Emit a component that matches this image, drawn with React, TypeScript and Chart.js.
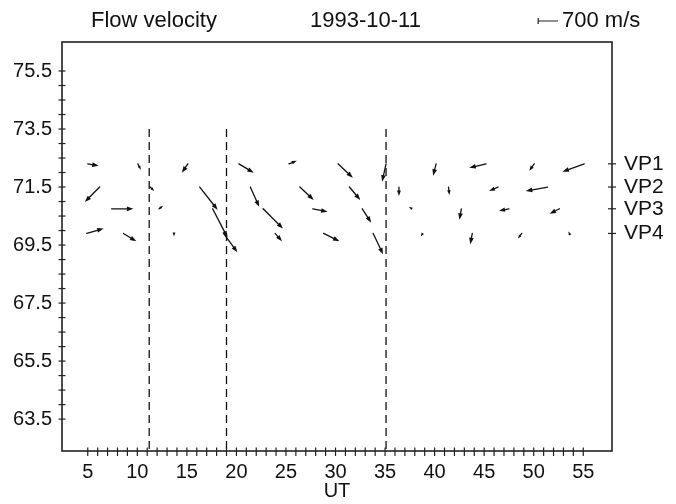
import { useEffect, useRef } from "react";
import { Chart, registerables } from "chart.js";

Chart.register(...registerables);

// ---------- data ----------
const rowNames = ["VP1", "VP2", "VP3", "VP4"];
const rowLevels = [72.3, 71.5, 70.75, 69.9];

// sample times (UT minutes) and velocity components (m/s, vy positive = up)
const vp1Times = [5.0, 10.05, 15.1, 20.25, 25.3, 30.25, 35.1, 40.15, 45.2, 50.05, 55.1];
const vp1Vx = [385, 105, -210, 525, 280, 525, -140, -105, -595, -175, -770];
const vp1Vy = [-70, -210, -315, -315, 105, -490, -630, -420, -140, -245, -280];

const vp2Times = [6.2, 11.3, 16.3, 21.4, 26.4, 31.4, 36.4, 41.4, 46.4, 51.4];
const vp2Vx = [-525, 140, 630, 315, 490, 385, 0, 35, -315, -770];
const vp2Vy = [-525, -140, -805, -700, -455, -455, -315, -280, -140, -140];

const vp3Times = [7.4, 12.2, 17.6, 22.7, 27.7, 32.7, 37.7, 42.7, 47.5, 52.6];
const vp3Vx = [770, 140, 525, 700, 525, 315, -105, -70, -350, -350];
const vp3Vy = [0, 105, -1015, -700, -105, -490, 70, -385, -70, -175];

const vp4Times = [4.9, 8.6, 13.7, 18.7, 23.9, 28.8, 33.8, 38.8, 43.8, 48.8, 53.6];
const vp4Vx = [595, 455, 0, 490, 245, 560, 350, -70, -70, -140, -35];
const vp4Vy = [175, -280, -105, -665, -280, -280, -735, -105, -385, -175, 70];

const boundaryTimes = [11.2, 19.0, 35.1];
const boundaryTop = 73.5;

const xTickLabels = [5, 10, 15, 20, 25, 30, 35, 40, 45, 50, 55];
const yTickLabels = [63.5, 65.5, 67.5, 69.5, 71.5, 73.5, 75.5];

const referenceSpeed = 700; // m/s
const referenceSpeedUT = 2; // length of the 700 m/s bar, in x-axis units

const X_MIN = 2.4;
const X_MAX = 57.9;
const Y_MIN = 62.4;
const Y_MAX = 76.5;

const FONT = "'Liberation Sans', Arial, Helvetica, sans-serif";
const INK = "#111";

const rows = [
  { t: vp1Times, vx: vp1Vx, vy: vp1Vy },
  { t: vp2Times, vx: vp2Vx, vy: vp2Vy },
  { t: vp3Times, vx: vp3Vx, vy: vp3Vy },
  { t: vp4Times, vx: vp4Vx, vy: vp4Vy },
];

function drawArrow(ctx: CanvasRenderingContext2D, x0: number, y0: number, x1: number, y1: number) {
  const dx = x1 - x0;
  const dy = y1 - y0;
  const len = Math.hypot(dx, dy);
  if (len < 0.5) return;
  const ux = dx / len;
  const uy = dy / len;
  const hl = Math.min(6.5, Math.max(3.8, len * 0.6));
  const hw = hl * 0.36;
  const bx = x1 - ux * hl;
  const by = y1 - uy * hl;
  if (len > hl) {
    ctx.beginPath();
    ctx.moveTo(x0, y0);
    ctx.lineTo(bx + ux * 1, by + uy * 1);
    ctx.stroke();
  }
  ctx.beginPath();
  ctx.moveTo(x1, y1);
  ctx.lineTo(bx - uy * hw, by + ux * hw);
  ctx.lineTo(bx + uy * hw, by - ux * hw);
  ctx.closePath();
  ctx.fill();
}

const overlayPlugin = {
  id: "overlay",
  afterDatasetsDraw(chart: any) {
    const ctx: CanvasRenderingContext2D = chart.ctx;
    const xs = chart.scales.x;
    const ys = chart.scales.y;
    const area = chart.chartArea;
    const pxPerMs =
      (xs.getPixelForValue(X_MIN + referenceSpeedUT) - xs.getPixelForValue(X_MIN)) / referenceSpeed;

    ctx.save();
    // arrows
    ctx.strokeStyle = INK;
    ctx.fillStyle = INK;
    ctx.lineWidth = 1.3;
    ctx.lineCap = "round";
    rows.forEach((row, ri) => {
      const meta = chart.getDatasetMeta(ri);
      row.t.forEach((_, i) => {
        const el = meta.data[i];
        const x0 = el.x;
        const y0 = el.y;
        const x1 = x0 + row.vx[i] * pxPerMs;
        const y1 = y0 - row.vy[i] * pxPerMs;
        drawArrow(ctx, x0, y0, x1, y1);
      });
    });

    // frame
    ctx.lineWidth = 1.6;
    ctx.strokeStyle = "#222";
    ctx.lineCap = "butt";
    ctx.strokeRect(area.left, area.top, area.right - area.left, area.bottom - area.top);

    // left minor ticks every 0.5
    ctx.lineWidth = 1.2;
    for (let v = yTickLabels[0]; v <= yTickLabels[yTickLabels.length - 1] + 1e-6; v += 0.5) {
      const y = ys.getPixelForValue(v);
      ctx.beginPath();
      ctx.moveTo(area.left - 3.5, y);
      ctx.lineTo(area.left + 3.5, y);
      ctx.stroke();
    }
    // bottom ticks every 1
    for (let v = xTickLabels[0]; v <= xTickLabels[xTickLabels.length - 1] + 1e-6; v += 1) {
      const x = xs.getPixelForValue(v);
      ctx.beginPath();
      ctx.moveTo(x, area.bottom - 3.5);
      ctx.lineTo(x, area.bottom + 5);
      ctx.stroke();
    }
    // right ticks at spacecraft rows
    rowLevels.forEach((lv) => {
      const y = ys.getPixelForValue(lv);
      ctx.beginPath();
      ctx.moveTo(area.right - 4, y);
      ctx.lineTo(area.right + 4, y);
      ctx.stroke();
    });

    // header texts
    ctx.fillStyle = INK;
    ctx.font = `22px ${FONT}`;
    ctx.textBaseline = "middle";
    ctx.textAlign = "left";
    ctx.fillText("Flow velocity", 91, 21);
    ctx.fillText("1993-10-11", 310, 21);
    const barLen = referenceSpeed * pxPerMs;
    const barRight = 558;
    ctx.lineWidth = 1.2;
    ctx.beginPath();
    ctx.moveTo(barRight - barLen, 21);
    ctx.lineTo(barRight, 21);
    ctx.moveTo(barRight - barLen, 18);
    ctx.lineTo(barRight - barLen, 24);
    ctx.stroke();
    ctx.fillText("700 m/s", barRight + 4, 21);
    ctx.restore();
  },
};

export default function App() {
  const ref = useRef<HTMLCanvasElement | null>(null);
  useEffect(() => {
    document.body.style.margin = "0";
    const canvas = ref.current;
    if (!canvas) return;

    const arrowSets = rows.map((row, ri) => ({
      label: rowNames[ri],
      data: row.t.map((t) => ({ x: t, y: rowLevels[ri] })),
      pointRadius: 0,
      showLine: false,
    }));
    const boundarySets = boundaryTimes.map((t) => ({
      label: "boundary",
      data: [
        { x: t, y: boundaryTop },
        { x: t, y: Y_MIN },
      ],
      showLine: true,
      borderColor: INK,
      borderWidth: 1.3,
      borderDash: [8, 5],
      pointRadius: 0,
      fill: false,
    }));

    const tickFont = { family: FONT, size: 20 };
    const chart = new Chart(canvas, {
      type: "scatter",
      data: { datasets: [...arrowSets, ...boundarySets] as any },
      plugins: [overlayPlugin],
      options: {
        responsive: false,
        animation: false,
        layout: { padding: { top: 42, left: 0, right: 0, bottom: 0 } },
        plugins: { legend: { display: false }, tooltip: { enabled: false }, title: { display: false } },
        scales: {
          x: {
            type: "linear",
            position: "bottom",
            min: X_MIN,
            max: X_MAX,
            grid: { display: false, drawTicks: false },
            border: { display: false },
            afterBuildTicks: (s: any) => {
              s.ticks = xTickLabels.map((v) => ({ value: v }));
            },
            afterFit: (s: any) => {
              s.height = 53;
            },
            ticks: {
              autoSkip: false,
              maxRotation: 0,
              padding: 9,
              color: INK,
              font: tickFont,
              callback: (v: any) => String(v),
            },
            title: {
              display: true,
              text: "UT",
              color: INK,
              font: tickFont,
              padding: { top: 0, bottom: 1 },
            },
          },
          y: {
            type: "linear",
            position: "left",
            min: Y_MIN,
            max: Y_MAX,
            grid: { display: false, drawTicks: false },
            border: { display: false },
            afterBuildTicks: (s: any) => {
              s.ticks = yTickLabels.map((v) => ({ value: v }));
            },
            afterFit: (s: any) => {
              s.width = 62;
            },
            ticks: {
              autoSkip: false,
              padding: 10,
              color: INK,
              font: tickFont,
              callback: (v: any) => Number(v).toFixed(1),
            },
          },
          yR: {
            type: "linear",
            position: "right",
            min: Y_MIN,
            max: Y_MAX,
            grid: { display: false, drawTicks: false },
            border: { display: false },
            afterBuildTicks: (s: any) => {
              s.ticks = rowLevels.map((v) => ({ value: v }));
            },
            afterFit: (s: any) => {
              s.width = 64;
            },
            ticks: {
              autoSkip: false,
              padding: 12,
              color: INK,
              font: { family: FONT, size: 21 },
              callback: (_v: any, i: number) => rowNames[i],
            },
          },
        },
      } as any,
    });
    return () => chart.destroy();
  }, []);
  return <canvas ref={ref} width={676} height={504} style={{ display: "block" }} />;
}
